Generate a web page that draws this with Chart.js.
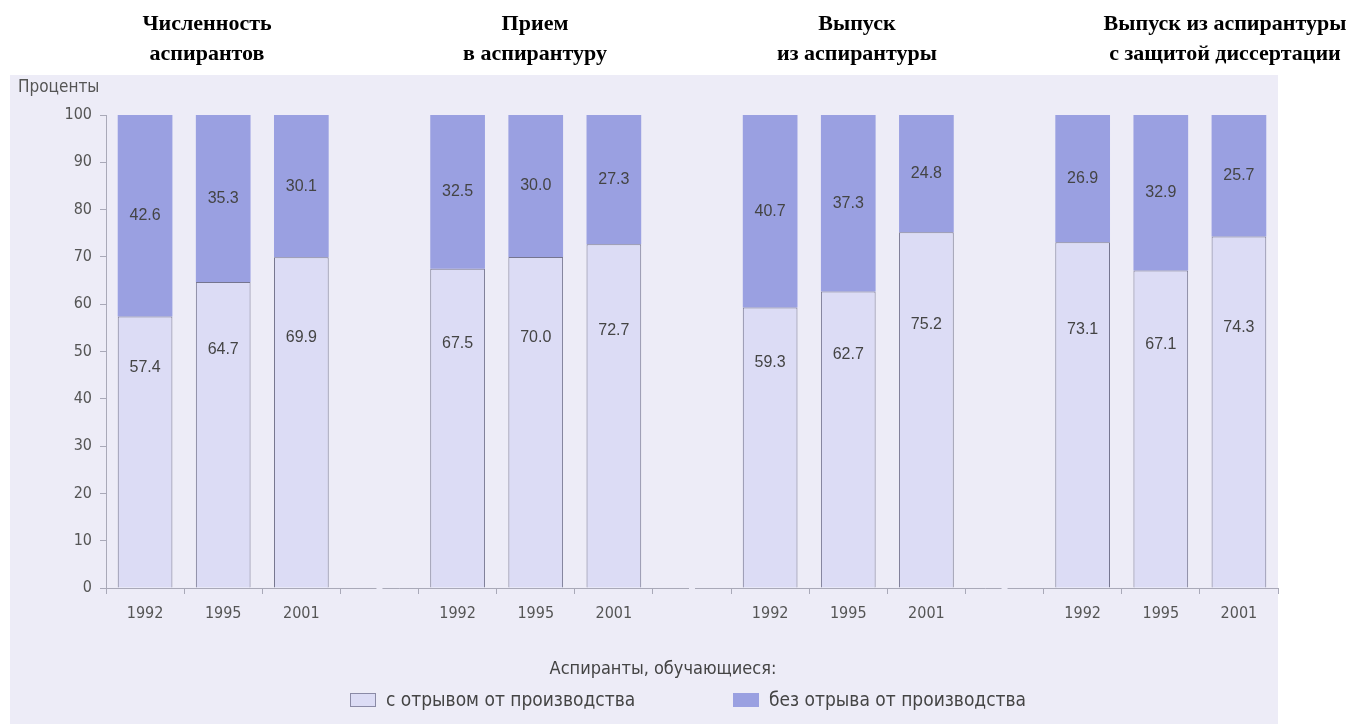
<!DOCTYPE html>
<html lang="ru">
<head>
<meta charset="utf-8">
<script src="https://cdn.jsdelivr.net/npm/chart.js@4.4.1/dist/chart.umd.min.js"></script>
<style>
  html, body { margin: 0; padding: 0; background: #fff; }
  #wrap { position: relative; width: 1348px; height: 724px; overflow: hidden; }
  #chart { position: absolute; left: 0; top: 0; }
  .head {
    position: absolute; top: 8px; width: 320px; text-align: center;
    font-family: "Liberation Serif", "Times New Roman", serif; font-weight: bold;
    font-size: 22px; line-height: 30px; color: #000;
  }
  .narrow { font-family: "Liberation Sans Narrow", "DejaVu Sans Condensed", "Roboto", sans-serif; color: #555; }
  #yTitle { position: absolute; left: 18px; top: 76px; font-size: 17px; }
  #legTitle { position: absolute; left: 0; width: 1326px; top: 657px; text-align: center; font-size: 18px; color: #444; }
  .leg { position: absolute; top: 688px; font-size: 19px; color: #444; white-space: nowrap; }
  .leg span.box { display: inline-block; width: 26px; height: 14px; margin-right: 10px; vertical-align: -1px; box-sizing: border-box; }
</style>
</head>
<body>
<div id="wrap">
  <canvas id="chart" width="1348" height="724"></canvas>
  <div id="heads"></div>
  <div id="yTitle" class="narrow">Проценты</div>
  <div id="legTitle" class="narrow">Аспиранты, обучающиеся:</div>
  <div id="leg1" class="leg narrow" style="left:350px"><span class="box" style="border:1px solid #8a8aa6"></span></div>
  <div id="leg2" class="leg narrow" style="left:733px"><span class="box"></span></div>
</div>
<script>
const groupTitles = [
  ["Численность", "аспирантов"],
  ["Прием", "в аспирантуру"],
  ["Выпуск", "из аспирантуры"],
  ["Выпуск из аспирантуры", "с защитой диссертации"]
];
const years = ["1992", "1995", "2001"];
const seriesNames = ["с отрывом от производства", "без отрыва от производства"];
const fullTime = [57.4, 64.7, 69.9, 67.5, 70.0, 72.7, 59.3, 62.7, 75.2, 73.1, 67.1, 74.3];
const partTime = [42.6, 35.3, 30.1, 32.5, 30.0, 27.3, 40.7, 37.3, 24.8, 26.9, 32.9, 25.7];
const yTicks = [0, 10, 20, 30, 40, 50, 60, 70, 80, 90, 100];

const colLow = "#dcdcf5";
const colHigh = "#9aa0e1";
const bg = "#edecf7";

// categories with an empty slot between groups
const labels = [], lowData = [], highData = [], blanks = [];
groupTitles.forEach((g, gi) => {
  if (gi > 0) { blanks.push(labels.length); labels.push(""); lowData.push(null); highData.push(null); }
  years.forEach((y, yi) => {
    labels.push(y);
    lowData.push(fullTime[gi * 3 + yi]);
    highData.push(partTime[gi * 3 + yi]);
  });
});

// headers and legend text
const headCenters = [207, 535, 857, 1225];
const heads = document.getElementById("heads");
groupTitles.forEach((g, i) => {
  const d = document.createElement("div");
  d.className = "head";
  d.style.left = (headCenters[i] - 160) + "px";
  d.innerHTML = g.join("<br>");
  heads.appendChild(d);
});
document.querySelector("#leg1 .box").style.background = colLow;
document.querySelector("#leg2 .box").style.background = colHigh;
document.getElementById("leg1").appendChild(document.createTextNode(seriesNames[0]));
document.getElementById("leg2").appendChild(document.createTextNode(seriesNames[1]));

const paper = {
  id: "paper",
  beforeDraw(chart) {
    const c = chart.ctx;
    c.save();
    c.fillStyle = bg;
    c.fillRect(10, 75, 1268, 649);
    c.restore();
  },
  afterDraw(chart) {
    const c = chart.ctx, xs = chart.scales.x, ys = chart.scales.y;
    c.save();
    // small breaks in the x axis line between groups
    c.fillStyle = bg;
    blanks.forEach(i => {
      const x = xs.getPixelForValue(i);
      c.fillRect(x - 3, xs.top - 2, 6, 4);
    });
    // values inside bars
    c.font = "16px 'Liberation Sans', Arial, sans-serif";
    c.fillStyle = "#444";
    c.textAlign = "center";
    c.textBaseline = "middle";
    chart.getDatasetMeta(0).data.forEach((bar, i) => {
      const v = lowData[i];
      if (v == null) return;
      c.fillText(v.toFixed(1), bar.x, ys.getPixelForValue(0.5 * v + 18));
    });
    chart.getDatasetMeta(1).data.forEach((bar, i) => {
      const v = highData[i];
      if (v == null) return;
      c.fillText(v.toFixed(1), bar.x, ys.getPixelForValue(lowData[i] + v / 2));
    });
    c.restore();
  }
};

new Chart(document.getElementById("chart"), {
  type: "bar",
  data: {
    labels: labels,
    datasets: [
      { label: seriesNames[0], data: lowData, backgroundColor: colLow,
        borderColor: "#75758f", borderWidth: 1, borderSkipped: "start" },
      { label: seriesNames[1], data: highData, backgroundColor: colHigh,
        borderWidth: 0 }
    ]
  },
  options: {
    responsive: false,
    animation: false,
    barPercentage: 0.7,
    categoryPercentage: 1,
    layout: { padding: { left: 0, right: 70, top: 115, bottom: 0 } },
    plugins: { legend: { display: false }, tooltip: { enabled: false } },
    scales: {
      x: {
        stacked: true,
        afterFit(s) { s.height = 136; },
        border: { color: "#a9a9b8", width: 1 },
        grid: { drawOnChartArea: false, tickLength: 6, color: "#a9a9b8" },
        ticks: { color: "#555", padding: 10, maxRotation: 0, autoSkip: false,
          font: { family: "'Liberation Sans Narrow', 'DejaVu Sans Condensed', Roboto, sans-serif", size: 16 } }
      },
      y: {
        stacked: true,
        min: 0, max: 100,
        afterFit(s) { s.width = 106; },
        afterBuildTicks(s) { s.ticks = yTicks.map(v => ({ value: v })); },
        border: { color: "#a9a9b8", width: 1 },
        grid: { drawOnChartArea: false, tickLength: 6, color: "#a9a9b8" },
        ticks: { color: "#555", padding: 8,
          font: { family: "'Liberation Sans Narrow', 'DejaVu Sans Condensed', Roboto, sans-serif", size: 16 } }
      }
    }
  },
  plugins: [paper]
});
</script>
</body>
</html>
